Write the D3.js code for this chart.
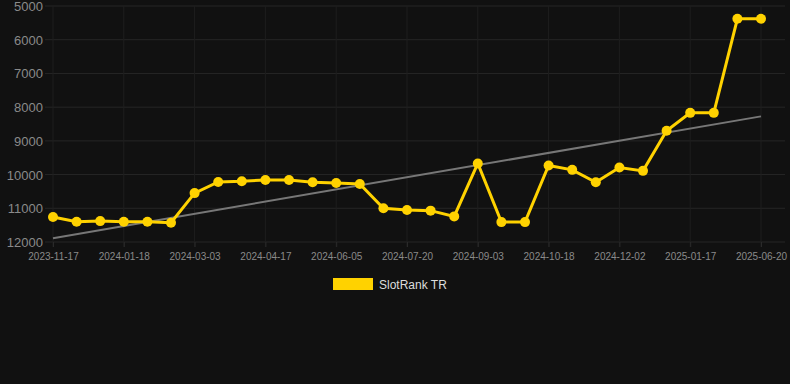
<!DOCTYPE html>
<html>
<head>
<meta charset="utf-8">
<script src="https://cdn.jsdelivr.net/npm/d3@7"></script>
<style>
  body { margin: 0; background: #111111; }
  svg { display: block; font-family: "Liberation Sans", Arial, sans-serif; }
</style>
</head>
<body>
<div id="chart"></div>
<script>
var dates = [
	'2023-11-17', '2023-12-08', '2023-12-28', '2024-01-18', '2024-02-02', '2024-02-17',
	'2024-03-03', '2024-03-18', '2024-04-02', '2024-04-17', '2024-05-04', '2024-05-20',
	'2024-06-05', '2024-06-20', '2024-07-05', '2024-07-20', '2024-08-04', '2024-08-19',
	'2024-09-03', '2024-09-18', '2024-10-03', '2024-10-18', '2024-11-02', '2024-11-17',
	'2024-12-02', '2024-12-17', '2025-01-01', '2025-01-17', '2025-03-10', '2025-04-30',
	'2025-06-20'
];
var ranks = [
	11260, 11400, 11380, 11400, 11400, 11430,
	10550, 10220, 10200, 10160, 10160, 10230,
	10250, 10280, 11000, 11050, 11070, 11240,
	9670, 11410, 11410, 9730, 9860, 10230,
	9790, 9890, 8700, 8170, 8170, 5380,
	5380
];
var y_ticks = [5000, 6000, 7000, 8000, 9000, 10000, 11000, 12000];
var series_name = 'SlotRank TR';

var chart_width = 790;
var chart_height = 384;

var svg = d3.select('#chart')
	.append('svg')
	.attr('width', chart_width)
	.attr('height', chart_height);

// scales
var x_scale = d3.scalePoint()
	.domain(dates)
	.range([53, 761]);
var y_scale = d3.scaleLinear()
	.domain([5000, 12000])
	.range([6, 242]);

// grid
svg.append('g')
	.selectAll('line')
	.data(y_ticks)
	.enter()
	.append('line')
	.attr('x1', 45)
	.attr('x2', 785)
	.attr('y1', function (d) { return y_scale(d); })
	.attr('y2', function (d) { return y_scale(d); })
	.attr('stroke', '#262626')
	.attr('stroke-width', 1);

var label_dates = dates.filter(function (d, i) { return i % 3 === 0; });
svg.append('g')
	.selectAll('line')
	.data(label_dates)
	.enter()
	.append('line')
	.attr('x1', function (d) { return x_scale(d); })
	.attr('x2', function (d) { return x_scale(d); })
	.attr('y1', 6)
	.attr('y2', 247)
	.attr('stroke', '#1e1e1e')
	.attr('stroke-width', 1);

// y axis labels
svg.append('g')
	.selectAll('text')
	.data(y_ticks)
	.enter()
	.append('text')
	.text(function (d) { return d; })
	.attr('x', 43)
	.attr('y', function (d) { return y_scale(d) + 5; })
	.attr('text-anchor', 'end')
	.attr('fill', '#8a8a8a')
	.attr('font-size', 13);

// x axis
var x_axis = d3.axisBottom(x_scale)
	.tickValues(label_dates)
	.tickSize(5)
	.tickPadding(6);
var gx = svg.append('g')
	.attr('transform', 'translate(0,' + y_scale(12000) + ')')
	.call(x_axis);
gx.select('.domain').remove();
gx.selectAll('line').attr('stroke', '#2a2a2a');
gx.selectAll('text')
	.attr('fill', '#8a8a8a')
	.attr('font-size', 10)
	.attr('font-family', '"Liberation Sans", Arial, sans-serif');

// trend line (least squares over the series)
var n = ranks.length;
var mean_i = d3.mean(ranks, function (d, i) { return i; });
var mean_v = d3.mean(ranks);
var num = d3.sum(ranks, function (d, i) { return (i - mean_i) * (d - mean_v); });
var den = d3.sum(ranks, function (d, i) { return (i - mean_i) * (i - mean_i); });
var slope = num / den;
var intercept = mean_v - slope * mean_i;
svg.append('line')
	.attr('x1', x_scale(dates[0]))
	.attr('y1', y_scale(intercept))
	.attr('x2', x_scale(dates[n - 1]))
	.attr('y2', y_scale(intercept + slope * (n - 1)))
	.attr('stroke', '#777777')
	.attr('stroke-width', 2);

// series line
var line = d3.line()
	.x(function (d, i) { return x_scale(dates[i]); })
	.y(function (d) { return y_scale(d); });
svg.append('path')
	.datum(ranks)
	.attr('d', line)
	.attr('fill', 'none')
	.attr('stroke', '#ffd200')
	.attr('stroke-width', 3);

svg.selectAll('circle')
	.data(ranks)
	.enter()
	.append('circle')
	.attr('cx', function (d, i) { return x_scale(dates[i]); })
	.attr('cy', function (d) { return y_scale(d); })
	.attr('r', 5)
	.attr('fill', '#ffd200');

// legend
svg.append('rect')
	.attr('x', 333)
	.attr('y', 278)
	.attr('width', 40)
	.attr('height', 12)
	.attr('fill', '#ffd200');
svg.append('text')
	.text(series_name)
	.attr('x', 379)
	.attr('y', 289)
	.attr('fill', '#dddddd')
	.attr('font-size', 12);
</script>
</body>
</html>
